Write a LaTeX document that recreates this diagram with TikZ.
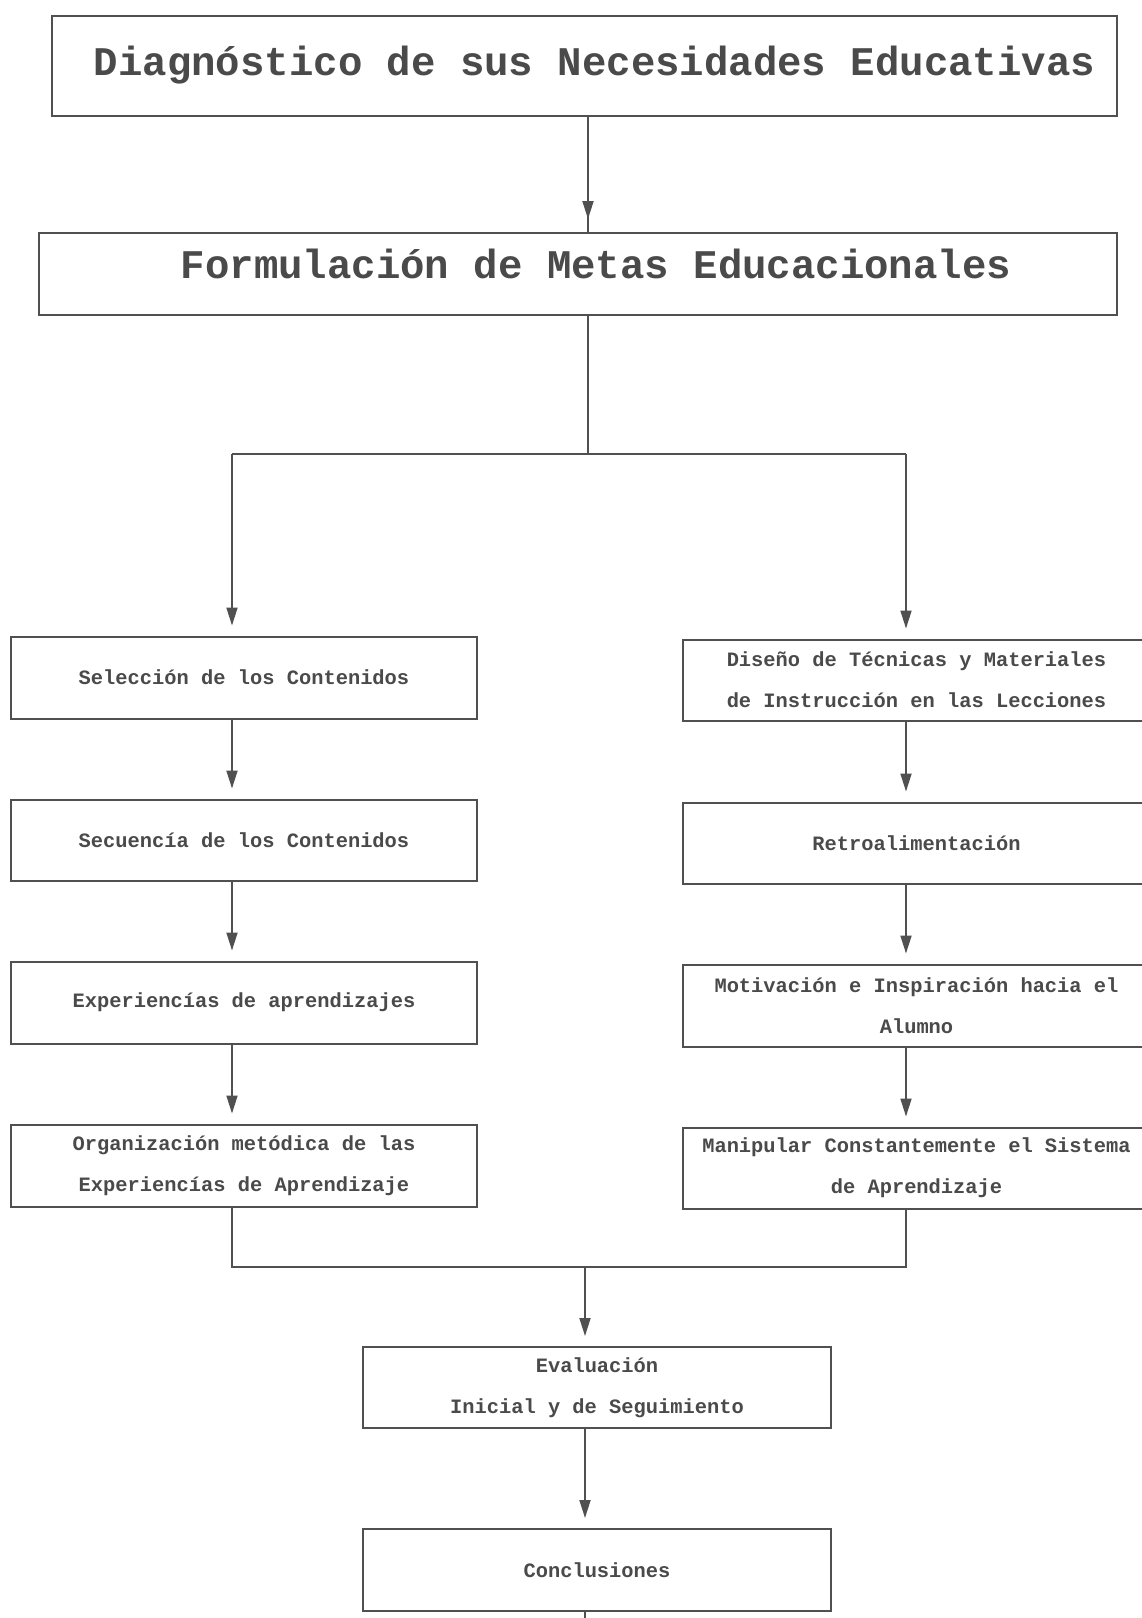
\documentclass[tikz,border=0pt]{standalone}
\usepackage{fontspec}
\newfontfamily\boxfont{Liberation Mono}
\usetikzlibrary{arrows.meta}
\definecolor{linec}{HTML}{505050}
\definecolor{txtc}{HTML}{4A4A4A}
\begin{document}
\begin{tikzpicture}[x=1pt,y=-1pt,
  box/.style={draw=linec, line width=2pt, text=txtc, inner sep=0pt, align=center,
    font=\boxfont\bfseries\fontsize{20.4}{41}\selectfont},
  headbox/.style={draw=linec, line width=2pt, text=txtc, inner sep=0pt, align=center,
    font=\boxfont\bfseries\fontsize{40.7}{48}\selectfont},
  conn/.style={draw=linec, line width=1.8pt, -{Triangle[length=18pt,width=11pt]}, shorten >=10pt},
  plain/.style={draw=linec, line width=1.8pt}]
\useasboundingbox (0,0) rectangle (1142,1618);
\fill[white] (0,0) rectangle (1142,1618);

% headings
\node[headbox, minimum width=1065pt, minimum height=100pt] (d1) at (584.5,65.5)
  {\hspace*{20pt}Diagnóstico de sus Necesidades Educativas};
\node[headbox, minimum width=1078pt, minimum height=82pt] (d2) at (578,274)
  {\hspace*{36pt}\raisebox{-4pt}[0pt][0pt]{Formulación de Metas Educacionales}};

% left column
\node[box, minimum width=466pt, minimum height=82pt] (l1) at (244,677.5) {Selección de los Contenidos};
\node[box, minimum width=466pt, minimum height=81pt] (l2) at (244,840) {Secuencía de los Contenidos};
\node[box, minimum width=466pt, minimum height=82pt] (l3) at (244,1002.5) {Experiencías de aprendizajes};
\node[box, minimum width=466pt, minimum height=82pt] (l4) at (244,1165.5) {Organización metódica de las\\Experiencías de Aprendizaje};

% right column
\node[box, minimum width=467pt, minimum height=81pt] (r1) at (916.5,680) {Diseño de Técnicas y Materiales\\de Instrucción en las Lecciones};
\node[box, minimum width=467pt, minimum height=81pt] (r2) at (916.5,843) {Retroalimentación};
\node[box, minimum width=467pt, minimum height=82pt] (r3) at (916.5,1005.5) {Motivación e Inspiración hacia el\\Alumno};
\node[box, minimum width=467pt, minimum height=81pt] (r4) at (916.5,1168) {Manipular Constantemente el Sistema\\de Aprendizaje};

% bottom
\node[box, minimum width=468pt, minimum height=81pt] (ev) at (597,1387.5) {Evaluación\\Inicial y de Seguimiento};
\node[box, minimum width=468pt, minimum height=82pt] (co) at (597,1570) {Conclusiones};

% column x positions
\coordinate (cx) at (588,0);
\coordinate (lx) at (232,0);
\coordinate (rx) at (906,0);
\coordinate (bx) at (585,0);
\coordinate (split) at (588,454);
\coordinate (join) at (585,1267);
\coordinate (tail) at (585,1618);

% top arrow
\draw[plain] (d1.south -| cx) -- (d2.north -| cx);
\draw[conn, shorten >=13pt] (d1.south -| cx) -- (d2.north -| cx);

% split
\draw[plain] (d2.south -| cx) -- (split);
\draw[plain] (split -| lx) -- (split -| rx);
\draw[conn] (split -| lx) -- (l1.north -| lx);
\draw[conn] (split -| rx) -- (r1.north -| rx);

% left chain
\draw[conn] (l1.south -| lx) -- (l2.north -| lx);
\draw[conn] (l2.south -| lx) -- (l3.north -| lx);
\draw[conn] (l3.south -| lx) -- (l4.north -| lx);

% right chain
\draw[conn] (r1.south -| rx) -- (r2.north -| rx);
\draw[conn] (r2.south -| rx) -- (r3.north -| rx);
\draw[conn] (r3.south -| rx) -- (r4.north -| rx);

% join
\draw[plain] (l4.south -| lx) -- (join -| lx) -- (join -| rx) -- (r4.south -| rx);
\draw[conn] (join) -- (ev.north -| bx);
\draw[conn] (ev.south -| bx) -- (co.north -| bx);
\draw[plain] (co.south -| bx) -- (tail);
\end{tikzpicture}
\end{document}
